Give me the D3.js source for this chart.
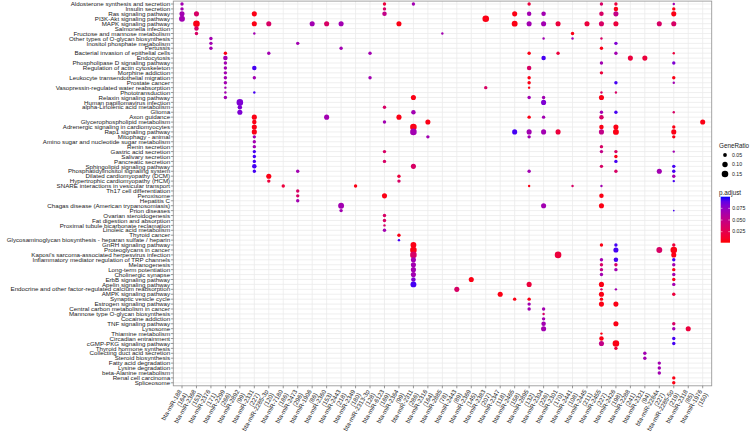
<!DOCTYPE html>
<html><head><meta charset="utf-8">
<script src="https://cdn.jsdelivr.net/npm/d3@7"></script>
<style>body{margin:0;background:#fff}svg{display:block;font-family:"Liberation Sans",Arial,sans-serif}</style>
</head><body><svg id="c" width="750" height="436"></svg>
<script>
const pathways = ["Aldosterone synthesis and secretion","Insulin secretion","Ras signaling pathway","PI3K-Akt signaling pathway","MAPK signaling pathway","Salmonella infection","Fructose and mannose metabolism","Other types of O-glycan biosynthesis","Inositol phosphate metabolism","Pertussis","Bacterial invasion of epithelial cells","Endocytosis","Phospholipase D signaling pathway","Regulation of actin cytoskeleton","Morphine addiction","Leukocyte transendothelial migration","Prostate cancer","Vasopressin-regulated water reabsorption","Phototransduction","Relaxin signaling pathway","Human papillomavirus infection","alpha-Linolenic acid metabolism","Glioma","Axon guidance","Glycerophospholipid metabolism","Adrenergic signaling in cardiomyocytes","Rap1 signaling pathway","Mitophagy - animal","Amino sugar and nucleotide sugar metabolism","Renin secretion","Gastric acid secretion","Salivary secretion","Pancreatic secretion","Sphingolipid signaling pathway","Phosphatidylinositol signaling system","Dilated cardiomyopathy (DCM)","Hypertrophic cardiomyopathy (HCM)","SNARE interactions in vesicular transport","Th17 cell differentiation","Peroxisome","Hepatitis C","Chagas disease (American trypanosomiasis)","Prion diseases","Ovarian steroidogenesis","Fat digestion and absorption","Proximal tubule bicarbonate reclamation","Linoleic acid metabolism","Thyroid cancer","Glycosaminoglycan biosynthesis - heparan sulfate / heparin","GnRH signaling pathway","Proteoglycans in cancer","Kaposi's sarcoma-associated herpesvirus infection","Inflammatory mediator regulation of TRP channels","Melanogenesis","Long-term potentiation","Cholinergic synapse","ErbB signaling pathway","Apelin signaling pathway","Endocrine and other factor-regulated calcium reabsorption","AMPK signaling pathway","Synaptic vesicle cycle","Estrogen signaling pathway","Central carbon metabolism in cancer","Mannose type O-glycan biosynthesis","Cocaine addiction","TNF signaling pathway","Lysosome","Thiamine metabolism","Circadian entrainment","cGMP-PKG signaling pathway","Thyroid hormone synthesis","Collecting duct acid secretion","Steroid biosynthesis","Fatty acid degradation","Lysine degradation","beta-Alanine metabolism","Renal cell carcinoma","Spliceosome"];

const mirnas = ["bta-miR-188","bta-miR-2368","bta-miR-2376","bta-miR-2299","bta-miR-2892","bta-miR-2331","bta-miR-2285-3p","bta-miR-7180","bta-miR-2473","bta-miR-1906","bta-miR-2360","bta-miR-2443","bta-miR-2349","bta-miR-2313-3p","bta-miR-6123","bta-miR-2364","bta-miR-2311","bta-miR-2316","bta-miR-2885","bta-miR-2443","bta-miR-2369","bta-miR-2383","bta-miR-2347","bta-miR-2465","bta-miR-2895","bta-miR-2304","bta-miR-2301","bta-miR-2441","bta-miR-2445","bta-miR-2455","bta-miR-2426","bta-miR-2288","bta-miR-2321","bta-miR-2284x","bta-miR-2285-5p","bta-miR-2318","bta-miR-1976"];
const mirnaCounts = ["164","153","171","266","99","227","120","186","296","86","153","218","180","128","169","99","286","164","78","89","145","207","118","158","132","226","170","108","211","227","198","241","94","227","219","85","150"];

// dot encodings: [pathway index, miRNA index, GeneRatio, p.adjust]
const dots = [
[0,0,.04,.068],[1,0,.04,.068],[2,0,.09,.068],[3,0,.12,.068],[2,1,.09,.035],[2,5,.09,.005],[0,14,.04,.018],[1,14,.04,.035],[2,14,.07,.05],[0,16,.04,.068],
[4,1,.15,.005],[4,5,.09,.005],[4,6,.09,.035],[4,9,.09,.068],[4,10,.09,.035],[4,11,.09,.068],[4,15,.09,.005],[5,1,.07,.035],[6,1,.04,.035],[6,5,.02,.068],
[6,18,.02,.068],[7,2,.04,.068],[8,2,.04,.068],[8,8,.04,.068],[9,2,.04,.068],[9,11,.04,.068],[10,3,.04,.005],[10,6,.04,.068],[10,13,.04,.068],[11,3,.07,.068],
[12,3,.04,.068],[13,3,.04,.068],[13,5,.07,.095],[14,3,.04,.068],[15,3,.04,.068],[15,5,.04,.068],[15,13,.04,.068],[16,3,.04,.068],[17,3,.02,.068],[18,3,.02,.068],
[18,5,.02,.095],[19,3,.04,.068],[19,16,.09,.005],[20,4,.15,.082],[21,4,.07,.082],[21,14,.04,.035],[22,4,.09,.082],[22,16,.07,.068],[23,5,.09,.005],[23,10,.09,.068],
[23,15,.09,.005],[24,5,.07,.005],[24,14,.04,.068],[24,17,.09,.005],[25,5,.09,.005],[25,16,.15,.005],[26,5,.09,.005],[26,16,.15,.068],[27,17,.04,.068],[27,5,.04,.068],
[28,5,.04,.068],[29,5,.04,.068],[30,5,.04,.095],[30,14,.04,.035],[31,5,.04,.095],[32,5,.04,.095],[32,14,.04,.035],[33,5,.07,.095],[33,16,.09,.035],[34,5,.04,.095],
[34,8,.04,.068],[35,6,.09,.005],[35,15,.04,.018],[36,6,.04,.018],[36,15,.04,.035],[37,7,.04,.018],[37,12,.04,.005],[38,8,.04,.035],
[39,8,.04,.035],[40,8,.04,.068],[39,14,.09,.005],[41,11,.12,.068],[42,11,.04,.068],[43,14,.04,.035],[44,14,.04,.035],[45,14,.02,.035],[46,14,.04,.068],[47,15,.04,.005],
[48,15,.02,.095],[49,16,.12,.005],[50,16,.15,.005],[51,16,.15,.035],[52,16,.09,.068],[53,16,.09,.068],[54,16,.09,.068],[55,16,.09,.068],[56,16,.07,.082],[57,16,.12,.095],
[0,24,.04,.018],[0,29,.04,.035],[0,30,.04,.018],[0,34,.02,.068],[1,30,.07,.005],[1,34,.04,.005],[2,23,.09,.005],[2,24,.07,.068],[2,25,.07,.068],[2,29,.07,.035],
[2,30,.09,.05],[2,34,.09,.005],[3,21,.15,.005],[4,23,.12,.005],[4,24,.09,.068],[4,25,.09,.068],[4,26,.09,.018],[4,28,.09,.018],[4,29,.09,.035],[4,30,.09,.018],
[4,33,.09,.035],[4,34,.09,.035],[6,27,.04,.005],[7,25,.02,.068],[7,27,.02,.068],[7,29,.02,.035],[8,30,.04,.082],[9,29,.04,.005],[10,24,.04,.005],[10,26,.04,.018],
[10,30,.04,.068],[10,34,.02,.018],[11,25,.07,.095],[11,31,.09,.018],[11,32,.09,.018],[12,29,.04,.068],[12,34,.04,.082],[13,24,.07,.035],[14,29,.04,.018],[15,24,.04,.005],
[15,34,.04,.005],[16,24,.04,.005],[16,30,.04,.095],[16,34,.02,.068],[17,21,.04,.035],[17,24,.02,.005],[18,29,.02,.035],[18,30,.02,.035],[19,24,.04,.068],[19,25,.04,.068],
[19,29,.09,.005],[20,25,.09,.082],[22,29,.04,.068],[22,30,.04,.095],[22,34,.02,.035],[23,24,.04,.005],[23,25,.04,.068],[23,29,.07,.035],[24,36,.09,.005],[25,29,.07,.005],
[25,30,.09,.005],[25,34,.04,.005],[26,23,.09,.095],[26,24,.09,.068],[26,25,.09,.068],[26,26,.09,.018],[26,29,.09,.05],[26,30,.12,.005],[26,34,.09,.005],[27,24,.04,.068],
[27,34,.04,.005],[29,29,.04,.035],[30,29,.04,.05],[30,30,.04,.035],[30,34,.02,.068],[31,30,.04,.005],[32,30,.04,.095],[33,29,.04,.035],[33,34,.04,.095],[34,24,.04,.068],
[34,30,.04,.035],[34,33,.09,.068],[34,34,.04,.095],[35,34,.04,.068],[36,34,.02,.095],[37,24,.02,.005],[37,27,.02,.035],[37,29,.02,.068],
[39,29,.07,.005],[41,25,.09,.068],[41,29,.09,.005],[42,34,.01,.095],[49,29,.04,.005],[49,30,.04,.095],[49,34,.04,.018],[50,30,.09,.095],[50,33,.12,.035],[50,34,.15,.005],
[51,26,.15,.018],[51,34,.09,.005],[52,29,.04,.068],[52,30,.07,.095],[52,34,.04,.095],[53,29,.04,.035],[53,30,.04,.035],[53,34,.04,.068],[54,29,.04,.05],[54,30,.04,.068],
[54,34,.04,.005],[55,29,.04,.068],[55,34,.04,.068],[56,20,.09,.005],[56,34,.04,.005],[57,24,.09,.018],[57,29,.09,.005],[57,34,.04,.068],[58,19,.09,.035],[58,29,.02,.035],
[58,30,.02,.068],[59,22,.09,.005],[59,29,.09,.005],[59,34,.04,.018],[60,23,.04,.005],[60,24,.04,.005],[60,29,.04,.005],[61,24,.04,.068],[61,29,.09,.005],[61,30,.09,.005],
[62,24,.04,.068],[62,25,.04,.068],[63,25,.02,.035],[64,25,.04,.068],[65,25,.07,.068],[65,30,.09,.005],[65,34,.04,.035],[66,25,.09,.068],[66,34,.04,.068],[66,35,.09,.018],
[67,29,.02,.005],[68,29,.07,.005],[68,34,.04,.095],[69,29,.09,.05],[69,30,.15,.005],[69,34,.04,.095],[70,30,.04,.018],[71,32,.04,.068],[72,32,.04,.068],[73,33,.04,.068],
[74,33,.04,.068],[75,33,.04,.068],[76,34,.04,.005],[77,34,.04,.005]
];

const sizeBreaks = [0.05, 0.10, 0.15];
const colorBreaks = [0.075, 0.050, 0.025];

const svg = d3.select("#c");
const P = {l:173.3, r:711.7, t:1.1, b:385.8};
const x = d3.scalePoint().domain(d3.range(mirnas.length)).range([182, 702.7]);
const y = d3.scalePoint().domain(pathways).range([4, 382.8]);
const r = d3.scaleSqrt().domain([0, 0.16]).range([0, 3.4]);
const pDomain = [0.0014, 0.0999];
const col = d3.scaleLinear().domain(pDomain).range(["#FF0000","#0000FF"]).interpolate(d3.interpolateLab);

// panel
svg.append("rect").attr("x",P.l).attr("y",P.t).attr("width",P.r-P.l).attr("height",P.b-P.t).attr("fill","#fff");
const g = svg.append("g");
g.selectAll(".gx").data(x.domain()).join("line").attr("x1",d=>x(d)).attr("x2",d=>x(d)).attr("y1",P.t).attr("y2",P.b).attr("stroke","#EBEBEB").attr("stroke-width",0.8);
g.selectAll(".gy").data(pathways).join("line").attr("y1",d=>y(d)).attr("y2",d=>y(d)).attr("x1",P.l).attr("x2",P.r).attr("stroke","#EBEBEB").attr("stroke-width",0.8);

// dots
svg.append("g").selectAll("circle").data(dots).join("circle")
  .attr("cx",d=>x(d[1])).attr("cy",d=>y(pathways[d[0]]))
  .attr("r",d=>r(d[2])).attr("fill",d=>col(d[3]));

svg.append("rect").attr("x",P.l).attr("y",P.t).attr("width",P.r-P.l).attr("height",P.b-P.t).attr("fill","none").attr("stroke","#9a9a9a").attr("stroke-width",0.9);

// y axis
const ya = svg.append("g");
ya.selectAll("line").data(pathways).join("line").attr("x1",P.l-2.5).attr("x2",P.l).attr("y1",d=>y(d)).attr("y2",d=>y(d)).attr("stroke","#555").attr("stroke-width",0.6);
ya.selectAll("text").data(pathways).join("text").attr("x",P.l-3.2).attr("y",d=>y(d)).attr("dy","0.35em")
  .attr("text-anchor","end").attr("font-size",6.2).attr("fill","#1a1a1a").text(d=>d);

// x axis
const xa = svg.append("g");
xa.selectAll("line").data(x.domain()).join("line").attr("x1",d=>x(d)).attr("x2",d=>x(d)).attr("y1",P.b).attr("y2",P.b+2.5).attr("stroke","#555").attr("stroke-width",0.6);
const xl = xa.selectAll("g").data(x.domain()).join("g").attr("transform",d=>`translate(${x(d)-1},${P.b+5}) rotate(-60)`);
xl.append("text").attr("text-anchor","end").attr("font-size",6.2).attr("fill","#1a1a1a").attr("y",1).text(d=>mirnas[d]);
xl.append("text").attr("text-anchor","end").attr("font-size",6.2).attr("fill","#1a1a1a").attr("y",7.5).text(d=>"("+mirnaCounts[d]+")");

// legend: GeneRatio
const lg = svg.append("g");
lg.append("text").attr("x",719).attr("y",148).attr("font-size",6.3).attr("fill","#1a1a1a").text("GeneRatio");
const sl = lg.selectAll("g").data(sizeBreaks).join("g").attr("transform",(d,i)=>`translate(725,${155+i*9.5})`);
sl.append("circle").attr("r",d=>r(d)).attr("fill","#000");
sl.append("text").attr("x",7).attr("dy","0.35em").attr("font-size",5.2).attr("fill","#1a1a1a").text(d=>d.toFixed(2));

// legend: p.adjust
lg.append("text").attr("x",719).attr("y",195).attr("font-size",6.3).attr("fill","#1a1a1a").text("p.adjust");
const cb = d3.scaleLinear().domain(pDomain).range([242.7,196.7]);
const defs = svg.append("defs");
const gr = defs.append("linearGradient").attr("id","pg").attr("x1",0).attr("y1",1).attr("x2",0).attr("y2",0);
d3.range(0,1.0001,0.1).forEach(t=>gr.append("stop").attr("offset",t).attr("stop-color",col(pDomain[0]+t*(pDomain[1]-pDomain[0]))));
lg.append("rect").attr("x",720.7).attr("y",cb(pDomain[1])).attr("width",9.3).attr("height",cb(pDomain[0])-cb(pDomain[1])).attr("fill","url(#pg)");
colorBreaks.forEach(v=>{
  lg.append("line").attr("x1",720.7).attr("x2",722.5).attr("y1",cb(v)).attr("y2",cb(v)).attr("stroke","#fff").attr("stroke-width",0.5);
  lg.append("line").attr("x1",728.2).attr("x2",730).attr("y1",cb(v)).attr("y2",cb(v)).attr("stroke","#fff").attr("stroke-width",0.5);
  lg.append("text").attr("x",732.3).attr("y",cb(v)).attr("dy","0.35em").attr("font-size",5.2).attr("fill","#1a1a1a").text(v.toFixed(3));
});
</script></body></html>
